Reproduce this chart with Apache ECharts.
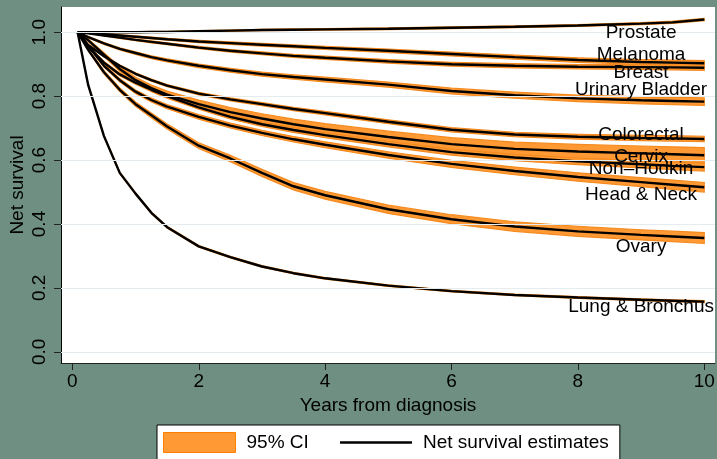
<!DOCTYPE html>
<html><head><meta charset="utf-8">
<script src="https://cdn.jsdelivr.net/npm/echarts@6/dist/echarts.min.js"></script>
<style>html,body{margin:0;padding:0;background:#6f8f82;} #c{width:717px;height:459px;}</style>
</head><body><div id="c"></div>
<script>
// ---- data ----
const years = [0.083, 0.25, 0.5, 0.75, 1, 1.25, 1.5, 2, 2.5, 3, 3.5, 4, 5, 6, 7, 8, 9, 9.5, 10];
const xTicks = [0, 2, 4, 6, 8, 10];
const yTicks = [0, 0.2, 0.4, 0.6, 0.8, 1.0];

const prostate   = [1.000,1.000,1.000,1.000,1.000,1.001,1.001,1.003,1.005,1.007,1.008,1.009,1.011,1.014,1.017,1.021,1.027,1.031,1.040];
const melanoma   = [1.000,0.998,0.994,0.990,0.986,0.982,0.978,0.971,0.966,0.961,0.956,0.951,0.942,0.932,0.922,0.913,0.907,0.905,0.903];
const breast     = [1.000,0.997,0.990,0.983,0.976,0.970,0.964,0.952,0.942,0.934,0.926,0.920,0.909,0.900,0.895,0.892,0.891,0.890,0.889];
const bladder    = [1.000,0.985,0.965,0.948,0.935,0.922,0.912,0.895,0.881,0.869,0.860,0.852,0.836,0.816,0.803,0.793,0.787,0.785,0.783];
const colorectal = [1.000,0.960,0.925,0.895,0.870,0.850,0.833,0.808,0.790,0.775,0.760,0.747,0.720,0.695,0.680,0.673,0.669,0.668,0.666];
const cervix     = [1.000,0.975,0.930,0.885,0.850,0.825,0.805,0.775,0.750,0.730,0.712,0.697,0.672,0.650,0.635,0.627,0.621,0.618,0.615];
const nonHodgkin = [1.000,0.955,0.905,0.868,0.842,0.820,0.800,0.765,0.735,0.712,0.694,0.678,0.650,0.625,0.608,0.596,0.587,0.582,0.578];
const headNeck   = [1.000,0.958,0.895,0.850,0.814,0.788,0.767,0.735,0.708,0.685,0.665,0.648,0.616,0.588,0.566,0.547,0.531,0.523,0.515];
const ovary      = [1.000,0.945,0.875,0.820,0.775,0.740,0.705,0.645,0.605,0.560,0.518,0.490,0.446,0.415,0.392,0.377,0.366,0.361,0.356];
const lung       = [1.000,0.835,0.675,0.560,0.495,0.435,0.390,0.330,0.296,0.267,0.246,0.230,0.207,0.190,0.178,0.170,0.163,0.160,0.157];

// 95% CI widths (upper - lower)
const ciProstate   = [0,0.001,0.002,0.002,0.003,0.003,0.003,0.004,0.004,0.004,0.005,0.005,0.005,0.006,0.006,0.006,0.007,0.007,0.007];
const ciMelanoma   = [0,0.002,0.003,0.004,0.005,0.006,0.006,0.007,0.008,0.009,0.009,0.010,0.011,0.012,0.013,0.014,0.015,0.016,0.016];
const ciBreast     = [0,0.002,0.003,0.004,0.005,0.006,0.006,0.007,0.008,0.009,0.009,0.010,0.011,0.012,0.013,0.014,0.015,0.016,0.016];
const ciBladder    = [0,0.004,0.006,0.007,0.008,0.009,0.010,0.011,0.012,0.013,0.014,0.015,0.016,0.018,0.019,0.020,0.022,0.023,0.024];
const ciColorectal = [0,0.003,0.004,0.005,0.006,0.007,0.007,0.008,0.009,0.010,0.010,0.011,0.012,0.013,0.014,0.015,0.016,0.017,0.017];
const ciCervix     = [0,0.008,0.012,0.015,0.018,0.020,0.022,0.025,0.028,0.030,0.032,0.034,0.037,0.040,0.042,0.044,0.046,0.047,0.048];
const ciNonHodgkin = [0,0.005,0.007,0.008,0.009,0.010,0.011,0.012,0.013,0.014,0.015,0.016,0.017,0.019,0.020,0.021,0.023,0.024,0.025];
const ciHeadNeck   = [0,0.005,0.008,0.010,0.011,0.012,0.013,0.014,0.015,0.016,0.017,0.018,0.020,0.022,0.024,0.026,0.028,0.029,0.030];
const ciOvary      = [0,0.006,0.010,0.012,0.014,0.015,0.016,0.018,0.020,0.022,0.023,0.024,0.026,0.028,0.030,0.031,0.032,0.033,0.034];
const ciLung       = [0,0.004,0.005,0.005,0.005,0.005,0.005,0.005,0.005,0.005,0.005,0.005,0.005,0.005,0.005,0.006,0.006,0.006,0.006];

const labelNames = ['Prostate','Melanoma','Breast','Urinary Bladder','Colorectal','Cervix','Non\u2013Hodkin','Head & Neck','Ovary','Lung & Bronchus'];
const labelX = [9, 9, 9, 9, 9, 9, 9, 9, 9, 9];
const labelY = [0.999, 0.930, 0.872, 0.819, 0.678, 0.609, 0.574, 0.491, 0.329, 0.141];

// ---- build ----
const est = [prostate, melanoma, breast, bladder, colorectal, cervix, nonHodgkin, headNeck, ovary, lung];
const ci  = [ciProstate, ciMelanoma, ciBreast, ciBladder, ciColorectal, ciCervix, ciNonHodgkin, ciHeadNeck, ciOvary, ciLung];

const FONT = "'Liberation Sans', Arial, Helvetica, sans-serif";
const FS = 19;
const BG = '#6f8f82';

const series = [];
series.push({
  name: '95% CI',
  type: 'custom',
  z: 2,
  silent: true,
  encode: {x: 0, y: 1},
  data: est.map((e, k) => [years[years.length - 1], e[e.length - 1], k]),
  renderItem: function (params, api) {
    const k = api.value(2);
    const up = [], lo = [];
    for (let j = 0; j < years.length; j++) {
      up.push(api.coord([years[j], est[k][j] + ci[k][j] / 2]));
      lo.push(api.coord([years[j], est[k][j] - ci[k][j] / 2]));
    }
    return {
      type: 'polygon',
      shape: {points: up.concat(lo.reverse())},
      style: {fill: '#ff9933', stroke: '#f58a1f', lineWidth: 1.2}
    };
  }
});
est.forEach((e, k) => {
  series.push({
    name: 'Net survival estimates',
    type: 'line',
    z: 3,
    silent: true,
    symbol: 'none',
    showSymbol: false,
    lineStyle: {color: '#000', width: 2.4},
    itemStyle: {color: '#000'},
    data: years.map((t, j) => [t, e[j]])
  });
});
series.push({
  name: 'labels',
  type: 'scatter',
  z: 5,
  silent: true,
  symbolSize: 1,
  itemStyle: {color: 'rgba(0,0,0,0)'},
  data: labelNames.map((n, k) => [labelX[k], labelY[k], n]),
  label: {
    show: true, position: 'inside',
    formatter: p => p.value[2],
    color: '#000', opacity: 1, textBorderWidth: 0, fontFamily: FONT, fontSize: FS
  },
  labelLayout: {hideOverlap: false}
});

const chart = echarts.init(document.getElementById('c'), null, {renderer: 'canvas'});
chart.setOption({
  animation: false,
  backgroundColor: BG,
  textStyle: {fontFamily: FONT},
  grid: {left: 61, right: 2, top: 7, bottom: 96, show: true, backgroundColor: '#fff', borderWidth: 0,
    containLabel: false, outerBoundsMode: 'none'},
  xAxis: {
    type: 'value', min: -0.18, max: 10.17,
    name: 'Years from diagnosis', nameLocation: 'middle', nameGap: 30,
    nameTextStyle: {fontFamily: FONT, fontSize: FS, color: '#000'},
    axisLine: {show: true, onZero: false, lineStyle: {color: '#222', width: 1}},
    axisTick: {show: true, length: 7, customValues: xTicks, lineStyle: {color: '#222'}},
    axisLabel: {customValues: xTicks, margin: 9, fontFamily: FONT, fontSize: FS, color: '#000'},
    splitLine: {show: false}
  },
  yAxis: {
    type: 'value', min: -0.035, max: 1.079,
    name: 'Net survival', nameLocation: 'middle', nameGap: 34, nameMoveOverlap: false,
    nameTextStyle: {fontFamily: FONT, fontSize: FS, color: '#000'},
    axisLine: {show: true, onZero: false, lineStyle: {color: '#000', width: 1}},
    axisTick: {show: true, length: 7, customValues: yTicks, lineStyle: {color: '#222'}},
    axisLabel: {customValues: yTicks, rotate: 90, margin: 12, fontFamily: FONT, fontSize: FS, color: '#000',
      formatter: v => v.toFixed(1)},
    splitLine: {show: false}
  },
  legend: {
    left: 157, top: 425, orient: 'horizontal',
    padding: [7, 11, 8, 6], itemGap: 30, itemWidth: 72, itemHeight: 20,
    backgroundColor: '#fff', borderColor: '#000', borderWidth: 1, borderRadius: 0,
    selectedMode: false,
    textStyle: {fontFamily: FONT, fontSize: FS, color: '#000', padding: [0, 0, 0, 6]},
    data: [
      {name: '95% CI', icon: 'rect', itemStyle: {color: '#ff9933', borderColor: '#ff8000', borderWidth: 1}},
      {name: 'Net survival estimates', itemStyle: {opacity: 0}, lineStyle: {color: '#000', width: 2.4}}
    ]
  },
  series: series.concat([{
    type: 'line', name: 'grid', silent: true, z: 1, data: [],
    markLine: {
      silent: true, symbol: 'none', label: {show: false},
      lineStyle: {color: '#e4ecef', width: 1.2, type: 'solid'},
      data: yTicks.map(v => ({yAxis: v}))
    }
  }])
});
</script>
</body></html>
